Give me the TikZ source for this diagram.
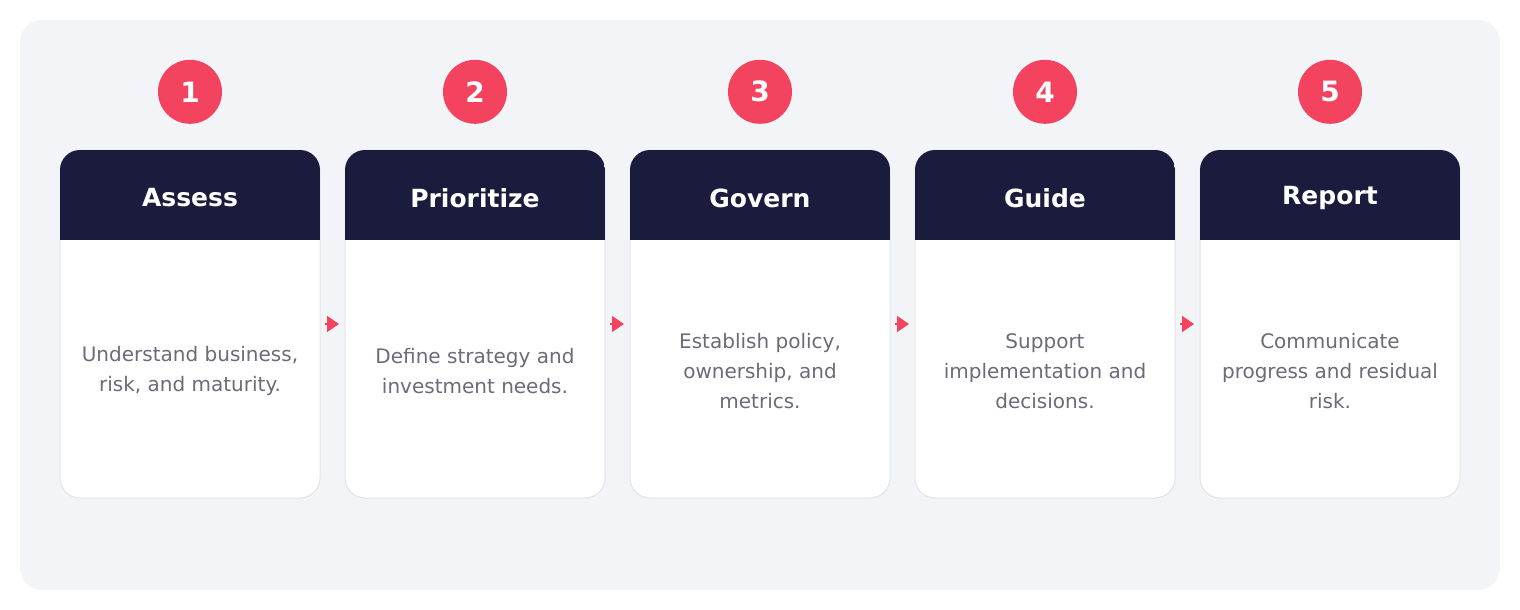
\documentclass[tikz,border=0pt]{standalone}
\usepackage{fontspec}
\setmainfont{DejaVu Sans}
\usetikzlibrary{calc,positioning,arrows.meta}

\definecolor{panelbg}{HTML}{F3F4F8}
\definecolor{headnavy}{HTML}{1B1C3D}
\definecolor{badgered}{HTML}{F4435F}
\definecolor{bodygray}{HTML}{6B6B7A}
\definecolor{cardline}{HTML}{E2E4EA}

\tikzset{
	card/.style={draw=cardline, fill=white, line width=1pt, rounded corners=20pt,
		minimum width=260pt, minimum height=348pt, inner sep=0pt, outer sep=0pt},
	badge/.style={circle, fill=badgered, text=white, minimum size=64pt, inner sep=0pt,
		font=\bfseries\fontsize{28}{30}\selectfont},
	cardtitle/.style={text=white, font=\bfseries\fontsize{25}{28}\selectfont},
	carddesc/.style={text=bodygray, align=center, font=\fontsize{20}{30}\selectfont},
	flow/.style={draw=badgered, line width=1.5pt, -{Triangle[length=12pt,width=16pt]},
		shorten <=5pt, shorten >=6pt}
}

\begin{document}
\begin{tikzpicture}[x=1pt, y=-1pt]

		\pgfmathsetmacro{\cardstep}{285}
		\pgfmathsetmacro{\headheight}{90}

		\useasboundingbox (0, 0) rectangle (1520, 610);

		% draw panel
		\fill[panelbg, rounded corners=22pt] (20, 20) rectangle (1500, 590);

		% draw cards
		\foreach \i/\title/\desc in {
			1/Assess/{Understand business,\\risk, and maturity.},
			2/Prioritize/{Define strategy and\\investment needs.},
			3/Govern/{Establish policy,\\ownership, and\\metrics.},
			4/Guide/{Support\\implementation and\\decisions.},
			5/Report/{Communicate\\progress and residual\\risk.}}
		{
			\node[card] (card\i) at (190 + \i * \cardstep - \cardstep, 324) {};

			% header band
			\begin{scope}
				\clip[rounded corners=20pt] (card\i.south west) rectangle (card\i.north east);
				\fill[headnavy] (card\i.north west) rectangle ($(card\i.north east) + (0, \headheight)$);
			\end{scope}

			\node[cardtitle] (title\i) at ($(card\i.north) + (0, 48)$) {\title};
			\node[carddesc] (desc\i) at ($(card\i.center) + (0, 47)$) {\desc};
			\node[badge, above=26pt of card\i] (num\i) {\i};
		}

		% draw arrows
		\foreach \i in {1, ..., 4}
		{
			\pgfmathtruncatemacro{\j}{\i + 1}
			\draw[flow] (card\i.east) -- (card\j.west);
		}

	\end{tikzpicture}
\end{document}
